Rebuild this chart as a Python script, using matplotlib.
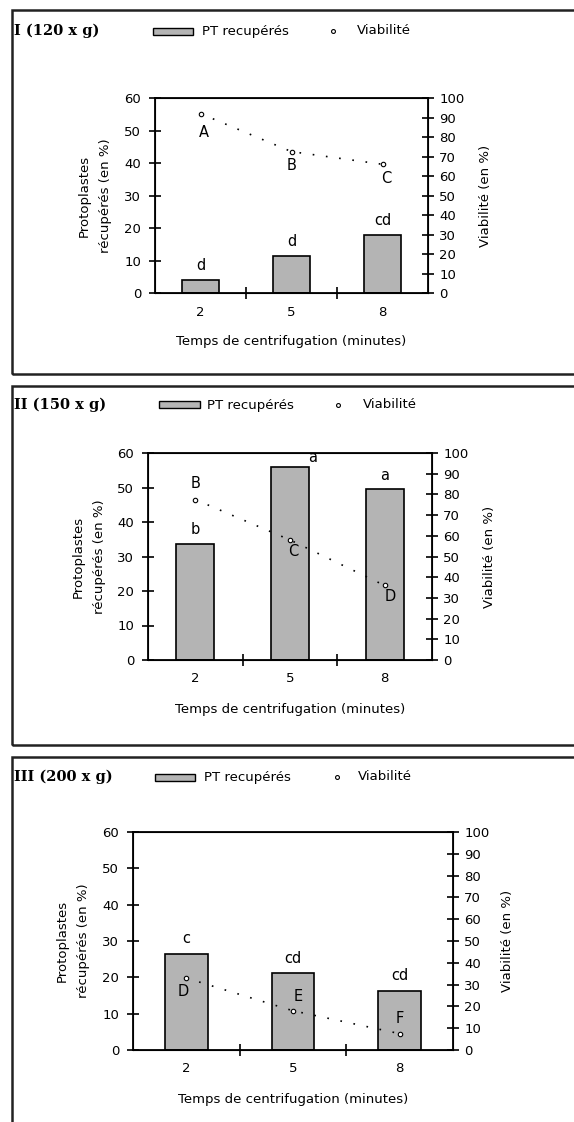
import matplotlib
matplotlib.use("Agg")
import matplotlib.pyplot as plt
from matplotlib.patches import Rectangle
from matplotlib.lines import Line2D

W, H = 574, 1122

# data
temps = ["2", "5", "8"]
titres = ["I (120 x g)", "II (150 x g)", "III (200 x g)"]
pt_120 = [4.0, 11.5, 17.7]
pt_150 = [33.5, 56.0, 49.5]
pt_200 = [26.3, 21.2, 16.2]
viab_120 = [92.0, 72.5, 66.0]
viab_150 = [77.5, 58.0, 36.0]
viab_200 = [33.0, 18.0, 7.5]
lettres_pt_120 = ["d", "d", "cd"]
lettres_pt_150 = ["b", "a", "a"]
lettres_pt_200 = ["c", "cd", "cd"]
lettres_v_120 = ["A", "B", "C"]
lettres_v_150 = ["B", "C", "D"]
lettres_v_200 = ["D", "E", "F"]

plt.rcParams['font.family'] = ['DejaVu Sans']
FS = 9.5
GRIS = "#b4b4b4"


def fx(x):
    return x / W


def fy(y):
    return 1 - y / H


def ax_rect(l, t, r, b):
    return [l / W, 1 - b / H, (r - l) / W, (b - t) / H]


fig = plt.figure(figsize=(W / 100, H / 100), dpi=100)

# layout (pixels): box top/bottom, axes l,t,r,b, legend x positions, label offsets
panneaux = [
    dict(box=(10, 374), axe=(155, 98, 428, 293), titre_y=31, leg=(153, 193, 202, 333, 357),
         ylab_x=95, ylab2_x=485,
         pt=pt_120, viab=viab_120, lp=lettres_pt_120, lv=lettres_v_120,
         lp_y=[8.6, 16.0, 22.2], lp_dx=[0, 0, 0],
         lv_y=[82.5, 65.5, 58.5], lv_dx=[0.04, 0.0, 0.04]),
    dict(box=(386, 745), axe=(148, 453, 432, 660), titre_y=405, leg=(159, 200, 207, 338, 363),
         ylab_x=89, ylab2_x=490,
         pt=pt_150, viab=viab_150, lp=lettres_pt_150, lv=lettres_v_150,
         lp_y=[37.7, 58.6, 53.5], lp_dx=[0, 0.24, 0],
         lv_y=[85.5, 52.5, 30.5], lv_dx=[0.0, 0.03, 0.06]),
    dict(box=(757, 1140), axe=(133, 832, 453, 1050), titre_y=777, leg=(155, 195, 204, 337, 358),
         ylab_x=73, ylab2_x=508,
         pt=pt_200, viab=viab_200, lp=lettres_pt_200, lv=lettres_v_200,
         lp_y=[30.6, 25.1, 20.5], lp_dx=[0, 0, 0],
         lv_y=[27.0, 24.5, 14.5], lv_dx=[-0.03, 0.05, 0.0]),
]

for p, titre in zip(panneaux, titres):
    t_box, b_box = p["box"]
    # frame around panel
    fig.patches.append(Rectangle((fx(12), fy(b_box)), fx(600), (b_box - t_box) / H,
                                 transform=fig.transFigure, fill=False,
                                 edgecolor="#222222", linewidth=1.8))

    # title + legend
    fig.text(fx(14), fy(p["titre_y"]), titre, family="DejaVu Serif", weight="bold",
             fontsize=10.5, va="center", ha="left")
    x0, x1, xt, xm, xv = p["leg"]
    yl = p["titre_y"]
    fig.patches.append(Rectangle((fx(x0), fy(yl + 3.5)), fx(x1 - x0), 7 / H,
                                 transform=fig.transFigure, facecolor=GRIS,
                                 edgecolor="black", linewidth=1.0))
    fig.text(fx(xt), fy(yl), "PT recupérés", fontsize=FS, va="center", ha="left")
    fig.lines.append(Line2D([fx(xm)], [fy(yl)], transform=fig.transFigure, marker="o",
                            markersize=2.8, markerfacecolor="white",
                            markeredgecolor="black", markeredgewidth=0.8))
    fig.text(fx(xv), fy(yl), "Viabilité", fontsize=FS, va="center", ha="left")

    l, t, r, b = p["axe"]
    ax = fig.add_axes(ax_rect(l, t, r, b))
    pos = list(range(len(temps)))
    ax.bar(pos, p["pt"], width=0.4, color=GRIS, edgecolor="black", linewidth=1.2, zorder=2)
    ax.set_xlim(-0.5, 2.5)
    ax.set_ylim(0, 60)
    ax.set_yticks(range(0, 61, 10))
    ax.set_xticks([0.5, 1.5])
    ax.set_xticklabels([])
    ax.set_xticks(pos, minor=True)
    ax.set_xticklabels(temps, minor=True)
    ax.tick_params(axis="x", which="minor", length=0, pad=9, labelsize=FS)
    ax.tick_params(axis="x", which="major", direction="inout", length=8, width=1.2)
    ax.tick_params(axis="y", direction="inout", length=8, width=1.2, labelsize=FS, pad=6)
    for s in ax.spines.values():
        s.set_linewidth(1.3)
    for i, (v, lab) in enumerate(zip(p["pt"], p["lp"])):
        ax.text(i + p["lp_dx"][i], p["lp_y"][i], lab, ha="center", va="center",
                fontsize=FS + 1)

    ax2 = ax.twinx()
    ax2.set_ylim(0, 100)
    ax2.set_yticks(range(0, 101, 10))
    ax2.tick_params(axis="y", direction="inout", length=8, width=1.2, labelsize=FS, pad=4)
    ax2.plot(pos, p["viab"], linestyle=(0, (1, 7)), color="black", linewidth=1.2,
             marker="o", markersize=3.2, markerfacecolor="white",
             markeredgecolor="black", markeredgewidth=0.8)
    for i, lab in enumerate(p["lv"]):
        ax2.text(i + p["lv_dx"][i], p["lv_y"][i], lab, ha="center", va="center",
                 fontsize=FS + 1)

    yc = fy((t + b) / 2)
    fig.text(fx(p["ylab_x"]), yc, "Protoplastes\nrécupérés (en %)", rotation=90,
             ha="center", va="center", fontsize=FS, linespacing=1.75)
    fig.text(fx(p["ylab2_x"]), yc, "Viabilité (en %)", rotation=90,
             ha="center", va="center", fontsize=FS)
    fig.text(fx((l + r) / 2), fy(b + 49), "Temps de centrifugation (minutes)",
             ha="center", va="center", fontsize=FS)

fig.savefig("out.png", dpi=100)
